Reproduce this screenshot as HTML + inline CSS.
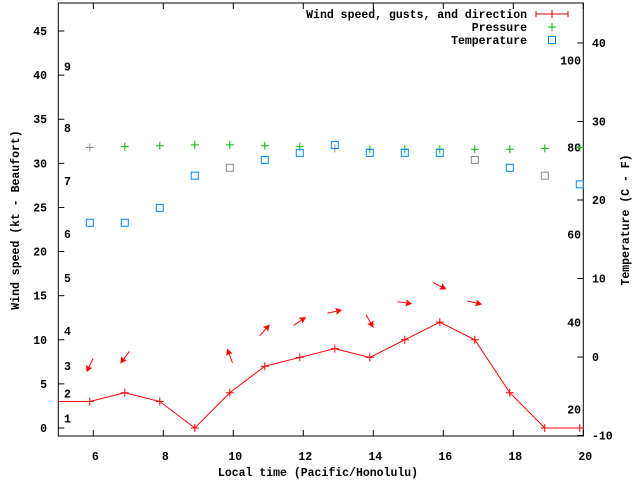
<!DOCTYPE html>
<html><head><meta charset="utf-8"><style>
body{margin:0;background:#fff}
svg text{font-family:"Liberation Mono",monospace;font-weight:bold;font-size:11.5px;fill:#000}
</style></head><body>
<svg id="chart" width="640" height="480" viewBox="0 0 640 480" xmlns="http://www.w3.org/2000/svg">
<g id="g"></g>
</svg>
<script>
const times=[5.9,6.9,7.9,8.9,9.9,10.9,11.9,12.9,13.9,14.9,15.9,16.9,17.9,18.9,19.9];
const windSpeed=[3,4,3,0,4,7,8,9,8,10,12,10,4,0,0];
const pressure=[31.8,31.9,32.0,32.1,32.1,32.0,31.9,31.7,31.6,31.6,31.6,31.6,31.6,31.7,31.8];
const pressureGray=[1,0,0,0,0,0,0,1,0,0,0,0,0,0,0];
const temperature=[17.1,17.1,19.0,23.1,24.1,25.1,26.0,27.0,26.0,26.0,26.0,25.1,24.1,23.1,22.0];
const tempGray=[0,0,0,0,1,0,0,0,0,0,0,1,0,1,0];
const arrowTimes=[5.9,6.9,9.9,10.9,11.9,12.9,13.9,14.9,15.9,16.9];
const arrowValue=[7.1,8.0,8.2,11.1,12.1,13.2,12.1,14.2,16.1,14.2];
const arrowAngle=[116,127,-111,-48,-34,-12,60,8,27,13];
const xTicks=[6,8,10,12,14,16,18,20];
const yTicks=[0,5,10,15,20,25,30,35,40,45];
const y2Ticks=[-10,0,10,20,30,40];
const beaufort=[[1,1.1],[2,3.9],[3,7.0],[4,11.0],[5,17.0],[6,22.0],[7,28.0],[8,34.0],[9,41.0]];
const fahr=[[20,-6.7],[40,4.4],[60,15.6],[80,26.7],[100,37.8]];
const L=58.3,R=583.3,T=3,B=436;
const xs=v=>L+(v-5)*35;
const ys=v=>428-v*8.822;
const y2=v=>357-v*7.85;
const g=document.getElementById('g');
const NS='http://www.w3.org/2000/svg';
function mk(t,a,parent){const e=document.createElementNS(NS,t);for(const k in a)e.setAttribute(k,a[k]);(parent||g).appendChild(e);return e;}
function txt(x,y,s,anchor){const e=mk('text',{x:x,y:y,'text-anchor':anchor||'start'});e.textContent=s;return e;}
let f=mk('rect',{x:L,y:T,width:R-L,height:B-T,fill:'none',stroke:'#000','stroke-width':1});


xTicks.forEach(v=>{const x=xs(v);
 let t=mk('path',{d:`M${x},${B}v-6M${x},${T}v6`,stroke:'#000'});
 
 
 let l=txt(x+2,B+24,String(v),'middle');
 
 
});
yTicks.forEach(v=>{const y=ys(v);
 let t=mk('path',{d:`M${L},${y}h6`,stroke:'#000'});
 
 
 let l=txt(47,y+4,String(v),'end');
 
 
});
y2Ticks.forEach(v=>{const y=y2(v);
 let t=mk('path',{d:`M${R},${y}h-6`,stroke:'#000'});
 
 
 let l=txt(592,y+4,String(v),'start');
 
 
});
beaufort.forEach(b=>{let l=txt(64,ys(b[1])+4,String(b[0]));
 
 });
fahr.forEach(b=>{let l=txt(581,y2(b[1])+4,String(b[0]),'end');
 
 });
let xt=txt(318,476,'Local time (Pacific/Honolulu)','middle');


let yt=txt(0,0,'Wind speed (kt - Beaufort)','middle');yt.setAttribute('transform','translate(19,220) rotate(-90)');


let y2t=txt(0,0,'Temperature (C - F)','middle');y2t.setAttribute('transform','translate(629,220) rotate(-90)');


let pts=[[L,ys(windSpeed[0])]].concat(times.map((t,i)=>[xs(t),ys(windSpeed[i])]));pts.push([R,ys(windSpeed[windSpeed.length-1])]);
let wl=mk('polyline',{points:pts.map(p=>p.join(',')).join(' '),fill:'none',stroke:'#f00','stroke-width':1});


times.forEach((t,i)=>{const x=xs(t),y=ys(windSpeed[i]);
 let p=mk('path',{d:`M${x-4},${y}h8M${x},${y-4}v8`,stroke:'#f00'});
 
 
});
arrowTimes.forEach((t,i)=>{const cx=xs(t),cy=ys(arrowValue[i]);const a=arrowAngle[i];
 let grp=mk('g',{transform:`translate(${cx},${cy}) rotate(${a})`});
 
 
 mk('path',{d:'M-7.5,0H4',stroke:'#f00','stroke-width':1},grp);
 mk('path',{d:'M7.5,0L1,-3.5L2,0L1,3.5Z',fill:'#f00'},grp);
});
times.forEach((t,i)=>{const x=xs(t),y=ys(pressure[i]);
 let p=mk('path',{d:`M${x-4},${y}h8M${x},${y-4}v8`,stroke:pressureGray[i]?'#888':'#0b0'});
 
 
});
times.forEach((t,i)=>{const x=xs(t),y=y2(temperature[i]);
 let p=mk('rect',{x:x-3.5,y:y-3.5,width:7,height:7,fill:'none',stroke:tempGray[i]?'#888':'#08f'});
 
 
});
const legendLabels=['Wind speed, gusts, and direction','Pressure','Temperature'];
legendLabels.forEach((s,i)=>{let l=txt(527,18+i*13,s,'end');
 
 });
let le=mk('path',{d:'M536,14h32M536,11v6M568,11v6M552,10v8',stroke:'#d00'});


let lp=mk('path',{d:'M548,27h8M552,23v8',stroke:'#0b0'});


let lt=mk('rect',{x:548.5,y:36.5,width:7,height:7,fill:'none',stroke:'#08f'});


</script>
</body></html>
